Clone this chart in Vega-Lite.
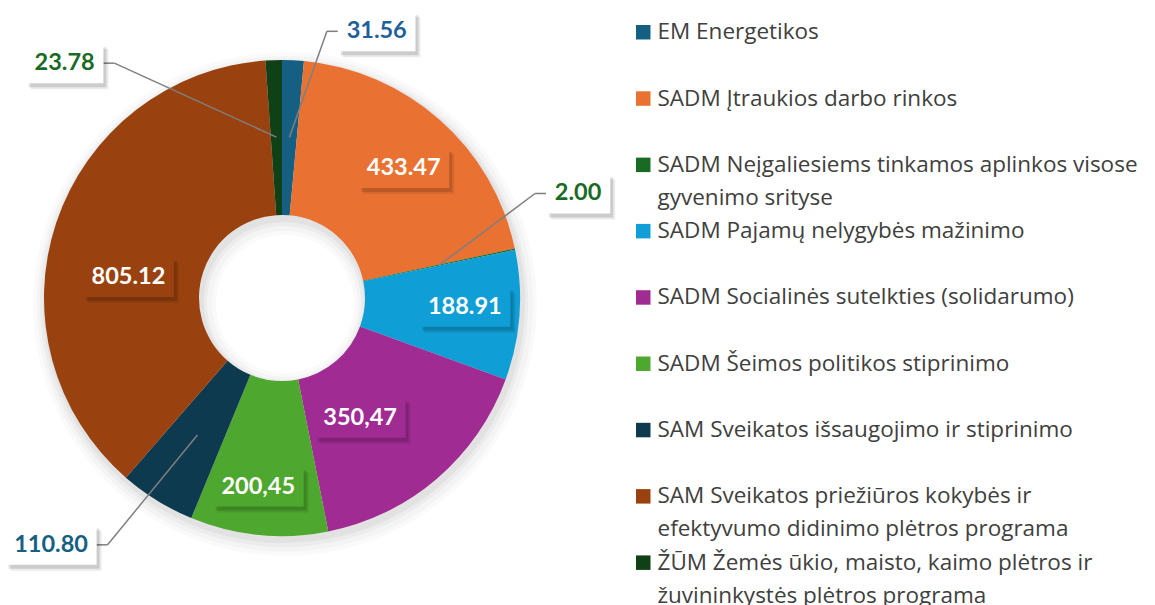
{
  "$schema": "https://vega.github.io/schema/vega-lite/v6.json",
  "width": 564,
  "height": 596,
  "autosize": {"type": "none"},
  "padding": {"left": 0, "top": 0, "right": 591, "bottom": 9},
  "background": "white",
  "config": {"view": {"stroke": null}},
  "data": {
    "values": [
      {"i": 0, "cat": "EM Energetikos", "value": 31.56, "lbl": "31.56"},
      {"i": 1, "cat": "SADM Įtraukios darbo rinkos", "value": 433.47, "lbl": "433.47"},
      {"i": 2, "cat": "SADM Neįgaliesiems tinkamos aplinkos visose gyvenimo srityse", "value": 2.00, "lbl": "2.00"},
      {"i": 3, "cat": "SADM Pajamų nelygybės mažinimo", "value": 188.91, "lbl": "188.91"},
      {"i": 4, "cat": "SADM Socialinės sutelkties (solidarumo)", "value": 350.47, "lbl": "350,47"},
      {"i": 5, "cat": "SADM Šeimos politikos stiprinimo", "value": 200.45, "lbl": "200,45"},
      {"i": 6, "cat": "SAM Sveikatos išsaugojimo ir stiprinimo", "value": 110.80, "lbl": "110.80"},
      {"i": 7, "cat": "SAM Sveikatos priežiūros kokybės ir efektyvumo didinimo plėtros programa", "value": 805.12, "lbl": "805.12"},
      {"i": 8, "cat": "ŽŪM Žemės ūkio, maisto, kaimo plėtros ir žuvininkystės  plėtros programa", "value": 23.78, "lbl": "23.78"}
    ]
  },
  "transform": [
    {"window": [{"op": "sum", "field": "value", "as": "cum"}], "sort": [{"field": "i"}], "frame": [null, 0]},
    {"joinaggregate": [{"op": "sum", "field": "value", "as": "total"}]},
    {"calculate": "2*PI*(datum.cum - datum.value/2)/datum.total", "as": "mid"},
    {"calculate": "datum.mid + PI/180*[16.9,1.5,-7.6,-1.4,7.5,1.6,11.4,-10.7,-40.8][datum.i]", "as": "la"},
    {"calculate": "[283,178,314,183,143,190,338,155,320][datum.i]", "as": "lr"},
    {"calculate": "datum.lr*sin(datum.la)", "as": "lx"},
    {"calculate": "datum.lr*cos(datum.la)", "as": "ly"},
    {"calculate": "13.4*(length(datum.lbl)-1)+24", "as": "bw"},
    {"calculate": "161*sin(datum.mid)", "as": "px"},
    {"calculate": "161*cos(datum.mid)", "as": "py"},
    {"calculate": "datum.px < datum.lx ? -1 : 1", "as": "side"},
    {"calculate": "datum.lx + datum.side*datum.bw/2", "as": "ex"},
    {"calculate": "datum.ex + datum.side*11", "as": "hx"},
    {"calculate": "datum.lx - datum.bw/2", "as": "bx1"},
    {"calculate": "datum.lx + datum.bw/2", "as": "bx2"},
    {"calculate": "datum.ly - 20", "as": "by1"},
    {"calculate": "datum.ly + 20", "as": "by2"},
    {"calculate": "datum.value < 120", "as": "outside"}
  ],
  "layer": [
    {
      "transform": [{"aggregate": [{"op": "sum", "field": "value", "as": "tv"}]}],
      "mark": {"type": "arc", "outerRadius": 252, "innerRadius": 69, "xOffset": 3, "yOffset": 6, "color": "black", "opacity": 0.02},
      "encoding": {"theta": {"field": "tv", "type": "quantitative"}}
    },
    {
      "transform": [{"aggregate": [{"op": "sum", "field": "value", "as": "tv"}]}],
      "mark": {"type": "arc", "outerRadius": 248, "innerRadius": 73, "xOffset": 3, "yOffset": 6, "color": "black", "opacity": 0.025},
      "encoding": {"theta": {"field": "tv", "type": "quantitative"}}
    },
    {
      "transform": [{"aggregate": [{"op": "sum", "field": "value", "as": "tv"}]}],
      "mark": {"type": "arc", "outerRadius": 244, "innerRadius": 77, "xOffset": 2, "yOffset": 5, "color": "black", "opacity": 0.03},
      "encoding": {"theta": {"field": "tv", "type": "quantitative"}}
    },
    {
      "transform": [{"aggregate": [{"op": "sum", "field": "value", "as": "tv"}]}],
      "mark": {"type": "arc", "outerRadius": 241, "innerRadius": 80, "xOffset": 2, "yOffset": 4, "color": "black", "opacity": 0.04},
      "encoding": {"theta": {"field": "tv", "type": "quantitative"}}
    },
    {
      "mark": {"type": "arc", "outerRadius": 238, "innerRadius": 83},
      "encoding": {
        "theta": {"field": "value", "type": "quantitative", "stack": true},
        "order": {"field": "i", "type": "quantitative"},
        "color": {
          "field": "cat",
          "type": "nominal",
          "scale": {
            "domain": [
              "EM Energetikos",
              "SADM Įtraukios darbo rinkos",
              "SADM Neįgaliesiems tinkamos aplinkos visose gyvenimo srityse",
              "SADM Pajamų nelygybės mažinimo",
              "SADM Socialinės sutelkties (solidarumo)",
              "SADM Šeimos politikos stiprinimo",
              "SAM Sveikatos išsaugojimo ir stiprinimo",
              "SAM Sveikatos priežiūros kokybės ir efektyvumo didinimo plėtros programa",
              "ŽŪM Žemės ūkio, maisto, kaimo plėtros ir žuvininkystės  plėtros programa"
            ],
            "range": ["#156082", "#E97132", "#196B24", "#0F9ED5", "#A02B93", "#4EA72E", "#0D3A4E", "#99420F", "#0F4016"]
          },
          "legend": {
            "title": null,
            "orient": "right",
            "offset": 47,
            "padding": 21,
            "symbolType": "square",
            "symbolSize": 210,
            "symbolStrokeWidth": 0,
            "labelFont": "Open Sans",
            "labelFontSize": 22.5,
            "labelColor": "#404040",
            "labelOffset": 3,
            "labelLimit": 1000,
            "rowPadding": 10.3,
            "labelExpr": "datum.label == 'SADM Neįgaliesiems tinkamos aplinkos visose gyvenimo srityse' ? ['SADM Neįgaliesiems tinkamos aplinkos visose', 'gyvenimo srityse'] : datum.label == 'SAM Sveikatos priežiūros kokybės ir efektyvumo didinimo plėtros programa' ? ['SAM Sveikatos priežiūros kokybės ir', 'efektyvumo didinimo plėtros programa'] : datum.label == 'ŽŪM Žemės ūkio, maisto, kaimo plėtros ir žuvininkystės  plėtros programa' ? ['ŽŪM Žemės ūkio, maisto, kaimo plėtros ir', 'žuvininkystės  plėtros programa'] : [datum.label, '']",
            "encoding": {"labels": {"lineHeight": {"value": 33}}}
          }
        }
      }
    },
    {
      "transform": [{"filter": "datum.outside"}],
      "mark": {"type": "rule", "color": "#7F7F7F", "strokeWidth": 1.5},
      "encoding": {
        "x": {"field": "ex", "type": "quantitative", "scale": {"domain": [-282, 282], "nice": false, "zero": false}, "axis": null},
        "x2": {"field": "hx"},
        "y": {"field": "ly", "type": "quantitative", "scale": {"domain": [-298, 298], "nice": false, "zero": false}, "axis": null}
      }
    },
    {
      "transform": [{"filter": "datum.outside"}],
      "mark": {"type": "rule", "color": "#7F7F7F", "strokeWidth": 1.5},
      "encoding": {
        "x": {"field": "hx", "type": "quantitative", "scale": {"domain": [-282, 282], "nice": false, "zero": false}, "axis": null},
        "x2": {"field": "px"},
        "y": {"field": "ly", "type": "quantitative", "scale": {"domain": [-298, 298], "nice": false, "zero": false}, "axis": null},
        "y2": {"field": "py"}
      }
    },
    {
      "mark": {"type": "rect", "color": "black", "opacity": 0.08, "xOffset": 5, "x2Offset": 5, "yOffset": 6, "y2Offset": 6},
      "encoding": {
        "x": {"field": "bx1", "type": "quantitative", "scale": {"domain": [-282, 282], "nice": false, "zero": false}, "axis": null},
        "x2": {"field": "bx2"},
        "y": {"field": "by1", "type": "quantitative", "scale": {"domain": [-298, 298], "nice": false, "zero": false}, "axis": null},
        "y2": {"field": "by2"}
      }
    },
    {
      "mark": {"type": "rect", "color": "black", "opacity": 0.13, "xOffset": 3, "x2Offset": 3, "yOffset": 4, "y2Offset": 4},
      "encoding": {
        "x": {"field": "bx1", "type": "quantitative", "scale": {"domain": [-282, 282], "nice": false, "zero": false}, "axis": null},
        "x2": {"field": "bx2"},
        "y": {"field": "by1", "type": "quantitative", "scale": {"domain": [-298, 298], "nice": false, "zero": false}, "axis": null},
        "y2": {"field": "by2"}
      }
    },
    {
      "mark": {"type": "rect"},
      "encoding": {
        "x": {"field": "bx1", "type": "quantitative", "scale": {"domain": [-282, 282], "nice": false, "zero": false}, "axis": null},
        "x2": {"field": "bx2"},
        "y": {"field": "by1", "type": "quantitative", "scale": {"domain": [-298, 298], "nice": false, "zero": false}, "axis": null},
        "y2": {"field": "by2"},
        "fill": {
          "condition": {"test": "datum.outside", "value": "white"},
          "field": "cat",
          "type": "nominal",
          "legend": null,
          "scale": {
            "domain": [
              "EM Energetikos",
              "SADM Įtraukios darbo rinkos",
              "SADM Neįgaliesiems tinkamos aplinkos visose gyvenimo srityse",
              "SADM Pajamų nelygybės mažinimo",
              "SADM Socialinės sutelkties (solidarumo)",
              "SADM Šeimos politikos stiprinimo",
              "SAM Sveikatos išsaugojimo ir stiprinimo",
              "SAM Sveikatos priežiūros kokybės ir efektyvumo didinimo plėtros programa",
              "ŽŪM Žemės ūkio, maisto, kaimo plėtros ir žuvininkystės  plėtros programa"
            ],
            "range": ["#156082", "#E97132", "#196B24", "#0F9ED5", "#A02B93", "#4EA72E", "#0D3A4E", "#99420F", "#0F4016"]
          }
        }
      }
    },
    {
      "mark": {"type": "text", "font": "Lato", "fontWeight": "bold", "fontSize": 23.5, "align": "center", "baseline": "middle"},
      "encoding": {
        "x": {"field": "lx", "type": "quantitative", "scale": {"domain": [-282, 282], "nice": false, "zero": false}, "axis": null},
        "y": {"field": "ly", "type": "quantitative", "scale": {"domain": [-298, 298], "nice": false, "zero": false}, "axis": null},
        "text": {"field": "lbl"},
        "color": {
          "condition": [
            {"test": "datum.i == 0", "value": "#215F9A"},
            {"test": "datum.i == 2 || datum.i == 8", "value": "#196B24"},
            {"test": "datum.i == 6", "value": "#156082"}
          ],
          "value": "white"
        }
      }
    }
  ],
  "resolve": {"scale": {"theta": "independent"}}
}
